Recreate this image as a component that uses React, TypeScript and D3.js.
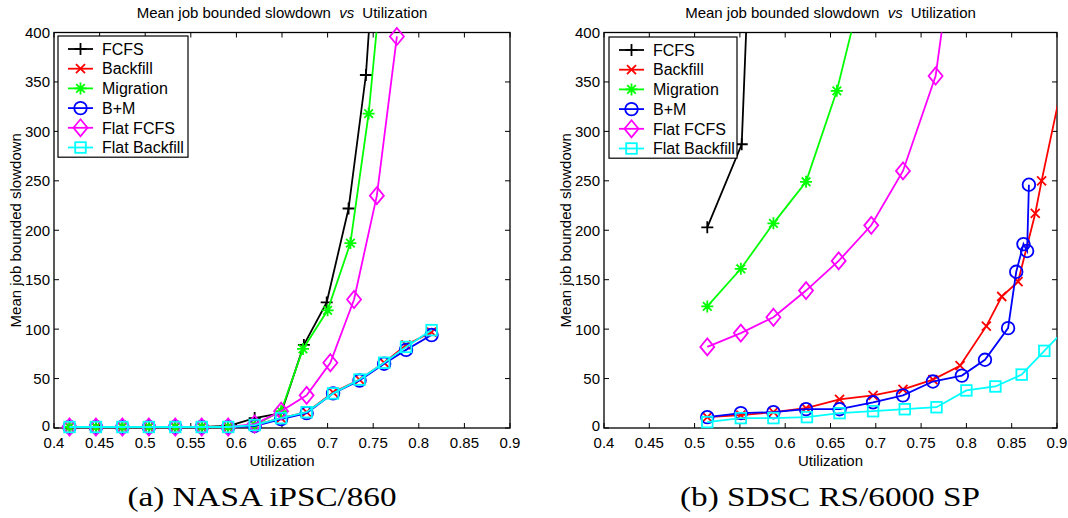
import React from "react";
import * as d3 from "d3";

const W = 1068;
const H = 518;
const SANS = "'Liberation Sans', Arial, Helvetica, sans-serif";
const SERIF = "'Liberation Serif', 'Times New Roman', serif";

const xTicks = [0.4, 0.45, 0.5, 0.55, 0.6, 0.65, 0.7, 0.75, 0.8, 0.85, 0.9];
const yTicks = [0, 50, 100, 150, 200, 250, 300, 350, 400];
const seriesNames = ["FCFS", "Backfill", "Migration", "B+M", "Flat FCFS", "Flat Backfill"];
const seriesColors = ["#000000", "#ff0000", "#00ff00", "#0000ff", "#ff00ff", "#00ffff"];
const seriesMarkers = ["plus", "x", "star", "circle", "diamond", "square"];
const captions = ["(a) NASA iPSC/860", "(b) SDSC RS/6000 SP"];
const titleMain = "Mean job bounded slowdown ";
const titleVs = "vs";
const titleEnd = " Utilization";
const yLabel = "Mean job bounded slowdown";
const xLabel = "Utilization";

// NASA iPSC/860
const nasaLowX = [0.417, 0.446, 0.475, 0.504, 0.533, 0.562, 0.591];
const nasaFcfsX = [...nasaLowX, 0.62, 0.649, 0.674, 0.699, 0.723, 0.742, 0.76];
const nasaFcfsY = [1, 1, 1, 1, 1, 1, 2, 10, 15, 84, 127, 222, 357, 600];
const nasaBfX = [...nasaLowX, 0.62, 0.649, 0.677, 0.706, 0.735, 0.762, 0.786, 0.814];
const nasaBfY = [1, 1, 1, 1, 1, 1, 1, 3, 10, 16, 36, 49, 66, 84, 97];
const nasaMigX = [...nasaLowX, 0.62, 0.649, 0.673, 0.7, 0.725, 0.745, 0.765];
const nasaMigY = [1, 1, 1, 1, 1, 1, 1, 3, 17, 80, 119, 187, 318, 510];
const nasaBmX = [...nasaLowX, 0.62, 0.649, 0.677, 0.706, 0.735, 0.762, 0.786, 0.814];
const nasaBmY = [1, 1, 1, 1, 1, 1, 1, 2, 9, 15, 35, 48, 65, 79, 94];
const nasaFfcfsX = [...nasaLowX, 0.62, 0.649, 0.677, 0.703, 0.729, 0.754, 0.776];
const nasaFfcfsY = [1, 1, 1, 1, 1, 1, 1, 4, 17, 33, 66, 130, 235, 396];
const nasaFbfX = [...nasaLowX, 0.62, 0.649, 0.677, 0.706, 0.735, 0.762, 0.786, 0.814];
const nasaFbfY = [1, 1, 1, 1, 1, 1, 1, 3, 10, 16, 35, 49, 66, 82, 99];

// SDSC RS/6000 SP
const sdscFcfsX = [0.514, 0.552, 0.587];
const sdscFcfsY = [203, 287, 1100];
const sdscBfX = [0.514, 0.551, 0.587, 0.623, 0.66, 0.697, 0.73, 0.763, 0.793, 0.822, 0.839, 0.857, 0.876, 0.883, 0.905];
const sdscBfY = [11, 13, 16, 20, 29, 33, 39, 49, 63, 103, 133, 148, 217, 250, 345];
const sdscMigX = [0.514, 0.551, 0.587, 0.623, 0.657, 0.697];
const sdscMigY = [123, 161, 207, 249, 341, 490];
const sdscBmX = [0.514, 0.551, 0.587, 0.623, 0.66, 0.697, 0.73, 0.763, 0.795, 0.8205, 0.846, 0.855, 0.863, 0.867, 0.869];
const sdscBmY = [11, 15, 16, 19, 19, 26, 33, 47, 53, 69, 101, 158, 186, 179, 246];
const sdscFfcfsX = [0.514, 0.551, 0.587, 0.623, 0.659, 0.695, 0.73, 0.766, 0.798];
const sdscFfcfsY = [82, 96, 112, 139, 169, 205, 260, 356, 570];
const sdscFbfX = [0.514, 0.551, 0.587, 0.624, 0.66, 0.697, 0.732, 0.767, 0.8, 0.832, 0.861, 0.886, 0.905];
const sdscFbfY = [6, 10, 10, 11, 15, 17, 19, 21, 38, 42, 54, 78, 96];

const nasaSeries = [
  [nasaFcfsX, nasaFcfsY],
  [nasaBfX, nasaBfY],
  [nasaMigX, nasaMigY],
  [nasaBmX, nasaBmY],
  [nasaFfcfsX, nasaFfcfsY],
  [nasaFbfX, nasaFbfY],
];
const sdscSeries = [
  [sdscFcfsX, sdscFcfsY],
  [sdscBfX, sdscBfY],
  [sdscMigX, sdscMigY],
  [sdscBmX, sdscBmY],
  [sdscFfcfsX, sdscFfcfsY],
  [sdscFbfX, sdscFbfY],
];

function Marker({ kind, x, y, color }: { kind: string; x: number; y: number; color: string }) {
  const sw = 1.8;
  const common = { stroke: color, strokeWidth: sw, fill: "none" };
  switch (kind) {
    case "plus":
      return <path d={`M${x - 6},${y}H${x + 6}M${x},${y - 6}V${y + 6}`} {...common} />;
    case "x":
      return <path d={`M${x - 4.5},${y - 4.5}L${x + 4.5},${y + 4.5}M${x - 4.5},${y + 4.5}L${x + 4.5},${y - 4.5}`} {...common} />;
    case "star":
      return (
        <path
          d={`M${x - 6},${y}H${x + 6}M${x},${y - 6}V${y + 6}M${x - 4.3},${y - 4.3}L${x + 4.3},${y + 4.3}M${x - 4.3},${y + 4.3}L${x + 4.3},${y - 4.3}`}
          {...common}
        />
      );
    case "circle":
      return <circle cx={x} cy={y} r={6.3} {...common} />;
    case "diamond":
      return <path d={`M${x},${y - 8.5}L${x + 7},${y}L${x},${y + 8.5}L${x - 7},${y}Z`} {...common} />;
    case "square":
      return <rect x={x - 5.3} y={y - 5.3} width={10.6} height={10.6} {...common} />;
    default:
      return null;
  }
}

type PanelProps = {
  id: string;
  x0: number;
  x1: number;
  y0: number;
  y1: number;
  data: number[][][];
  legendX: number;
  legendY: number;
  legendW: number;
  caption: string;
  captionX: number;
  captionLen: number;
};

function Panel(p: PanelProps) {
  const xs = d3.scaleLinear().domain([0.4, 0.9]).range([p.x0, p.x1]);
  const ys = d3.scaleLinear().domain([0, 400]).range([p.y1, p.y0]);
  const line = d3
    .line<[number, number]>()
    .x((d) => xs(d[0]))
    .y((d) => ys(d[1]));
  const cx = (p.x0 + p.x1) / 2;
  const cy = (p.y0 + p.y1) / 2;
  const tickLen = 5;
  const rowH = 19.7;
  const legendH = rowH * seriesNames.length + 3;
  return (
    <g>
      <defs>
        <clipPath id={p.id}>
          <rect x={p.x0} y={p.y0} width={p.x1 - p.x0} height={p.y1 - p.y0} />
        </clipPath>
      </defs>
      {/* title */}
      <text x={cx} y={18} textAnchor="middle" fontFamily={SANS} fontSize={15} fill="#000">
        {titleMain}
        <tspan fontStyle="italic" dx={4}>{titleVs}</tspan>
        <tspan dx={4}>{titleEnd}</tspan>
      </text>
      {/* axes box */}
      <rect x={p.x0} y={p.y0} width={p.x1 - p.x0} height={p.y1 - p.y0} fill="none" stroke="#000" strokeWidth={1.3} />
      {xTicks.map((t) => (
        <g key={"xt" + t}>
          <line x1={xs(t)} x2={xs(t)} y1={p.y1} y2={p.y1 - tickLen} stroke="#000" />
          <line x1={xs(t)} x2={xs(t)} y1={p.y0} y2={p.y0 + tickLen} stroke="#000" />
          <text x={xs(t)} y={448} textAnchor="middle" fontFamily={SANS} fontSize={15} fill="#000">
            {String(t)}
          </text>
        </g>
      ))}
      {yTicks.map((t) => (
        <g key={"yt" + t}>
          <line x1={p.x0} x2={p.x0 + tickLen} y1={ys(t)} y2={ys(t)} stroke="#000" />
          <line x1={p.x1} x2={p.x1 - tickLen} y1={ys(t)} y2={ys(t)} stroke="#000" />
          <text x={p.x0 - 4} y={ys(t)} dy={t === 0 ? "0.22em" : "0.36em"} textAnchor="end" fontFamily={SANS} fontSize={15} fill="#000">
            {String(t)}
          </text>
        </g>
      ))}
      <text x={cx} y={466} textAnchor="middle" fontFamily={SANS} fontSize={15} fill="#000">
        {xLabel}
      </text>
      <text
        transform={`translate(${p.x0 - 33},${cy}) rotate(-90)`}
        textAnchor="middle"
        fontFamily={SANS}
        fontSize={15}
        fill="#000"
      >
        {yLabel}
      </text>
      {/* series */}
      {p.data.map((s, i) => {
        const pts: [number, number][] = s[0].map((x, j) => [x, s[1][j]]);
        return (
          <g key={"s" + i}>
            <path d={line(pts) || ""} fill="none" stroke={seriesColors[i]} strokeWidth={1.8} clipPath={`url(#${p.id})`} />
            {pts
              .filter((d) => d[1] <= 400 && d[0] <= 0.9)
              .map((d, j) => (
                <Marker key={j} kind={seriesMarkers[i]} x={xs(d[0])} y={ys(d[1])} color={seriesColors[i]} />
              ))}
          </g>
        );
      })}
      {/* legend */}
      <rect x={p.legendX} y={p.legendY} width={p.legendW} height={legendH} fill="#fff" stroke="#000" strokeWidth={1.2} />
      {seriesNames.map((name, i) => {
        const yy = p.legendY + 13 + i * rowH;
        const lx1 = p.legendX + 10;
        const lx2 = p.legendX + 35;
        return (
          <g key={"lg" + i}>
            <line x1={lx1} x2={lx2} y1={yy} y2={yy} stroke={seriesColors[i]} strokeWidth={1.8} />
            <Marker kind={seriesMarkers[i]} x={(lx1 + lx2) / 2} y={yy} color={seriesColors[i]} />
            <text x={p.legendX + 44} y={yy} dy="0.36em" fontFamily={SANS} fontSize={16} fill="#000">
              {name}
            </text>
          </g>
        );
      })}
      {/* caption */}
      <text
        x={p.captionX}
        y={506}
        textAnchor="middle"
        fontFamily={SERIF}
        fontSize={27}
        fill="#000"
        textLength={p.captionLen}
        lengthAdjust="spacingAndGlyphs"
      >
        {p.caption}
      </text>
    </g>
  );
}

export default function App() {
  return (
    <div style={{ position: "fixed", left: 0, top: 0, width: W, height: H, background: "#fff" }}>
      <svg width={W} height={H} viewBox={`0 0 ${W} ${H}`} style={{ display: "block" }}>
        <rect x={0} y={0} width={W} height={H} fill="#fff" />
        <Panel
          id="clipA"
          x0={54}
          x1={510}
          y0={32.5}
          y1={428}
          data={nasaSeries}
          legendX={58}
          legendY={36}
          legendW={130}
          caption={captions[0]}
          captionX={262}
          captionLen={269}
        />
        <Panel
          id="clipB"
          x0={604}
          x1={1057}
          y0={32.5}
          y1={428}
          data={sdscSeries}
          legendX={609}
          legendY={37}
          legendW={128}
          caption={captions[1]}
          captionX={830}
          captionLen={300}
        />
      </svg>
    </div>
  );
}
